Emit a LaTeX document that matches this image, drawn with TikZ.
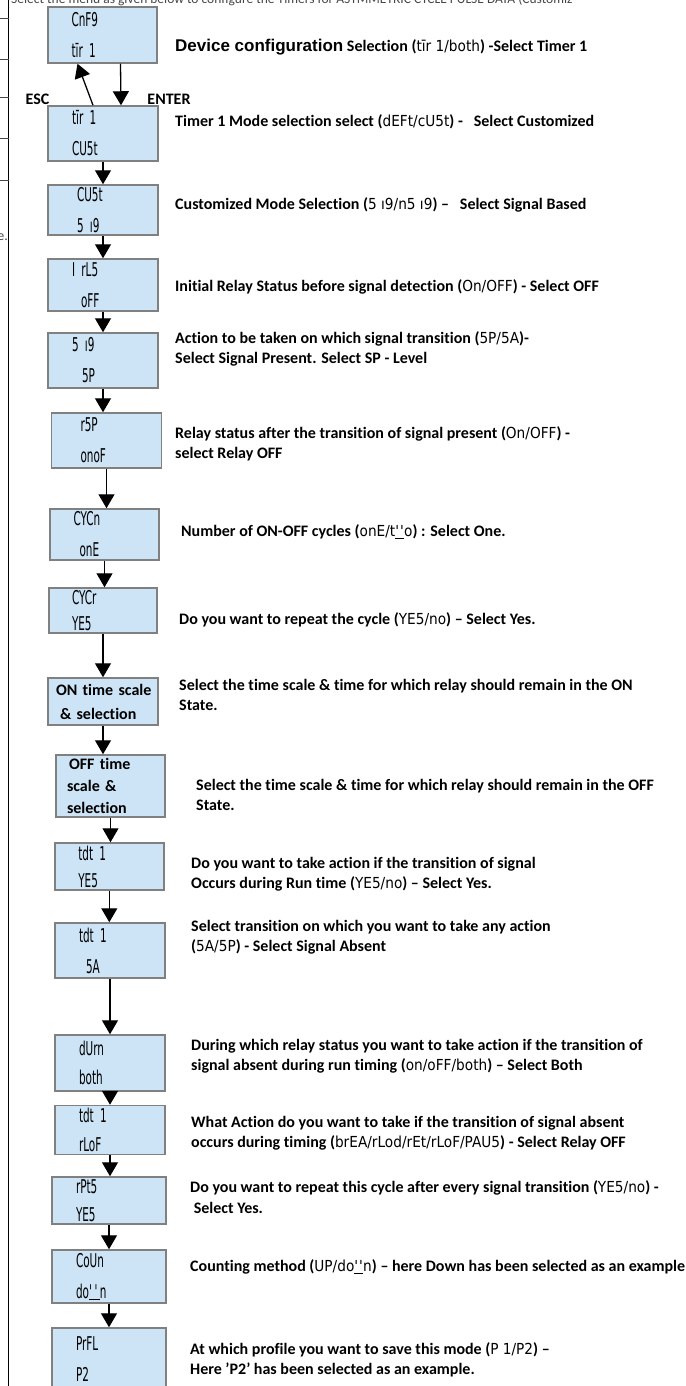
\documentclass[tikz,border=0pt]{standalone}
\usepackage{fontspec}
\setmainfont{Carlito}[Ligatures={TeX,NoCommon}]
\newfontfamily\segfont[FakeStretch=0.55]{DejaVu Sans}
\newfontfamily\segtext[FakeStretch=0.9]{DejaVu Sans}
\newfontfamily\arialfont{Liberation Sans}
\usetikzlibrary{arrows.meta,calc}
\definecolor{lcdfill}{RGB}{204,228,245}
\definecolor{lcdedge}{RGB}{128,128,128}
\definecolor{pagegray}{RGB}{70,70,70}
\newcommand\sg[1]{{\segtext\mdseries\fontsize{15.2}{20}\selectfont #1}}
\newcommand\segw{\underline{\smash{\textquotesingle\kern.5pt\textquotesingle}}}

\begin{document}
\begin{tikzpicture}[x=1pt,y=-1pt,font=\bfseries\fontsize{16}{20.5}\selectfont,
  lcd/.style={draw=lcdedge,line width=1.5pt,fill=lcdfill,inner sep=0pt,
    align=left,text width=62pt,font=\segfont\fontsize{19}{31}\selectfont},
  desc/.style={anchor=west,align=left,inner sep=0pt},
  arr/.style={-{Triangle[width=16pt,length=14pt]},line width=1.3pt}]

\useasboundingbox (0,0) rectangle (685,1386);
\clip (0,0) rectangle (685,1386);

% --- page around the flow chart ---
\draw[line width=0.8pt] (8.5,-5) -- (8.5,1392);
\foreach \y in {18,59,97,138,180}
  \draw[pagegray,line width=0.6pt] (0,\y) -- (8.5,\y);
\node[anchor=base west,inner sep=0pt,pagegray,font=\mdseries\fontsize{13.5}{16}\selectfont] (head) at (11,4)
  {Select the menu as given below to configure the Timers for ASYMMETRIC CYCLE PULSE DATA (Customiz};
\node[anchor=east,inner sep=0pt,pagegray,font=\mdseries\fontsize{14}{16}\selectfont] (cut) at (8,237) {e.};

% --- display boxes ---
\node[lcd,minimum width=109,minimum height=56] (b1) at (102.5,35) {CnF9\\tīr 1};
\node[lcd,minimum width=110,minimum height=55] (b2) at (103,133.5) {tīr 1\\CU5t};
\node[lcd,minimum width=110,minimum height=50] (b3) at (103,210) {\hspace*{5pt}CU5t\\\hspace*{5pt}5 ı9};
\node[lcd,minimum width=110,minimum height=52] (b4) at (103,285) {I rL5\\\hspace*{9pt}oFF};
\node[lcd,minimum width=110,minimum height=55] (b5) at (103,360.5) {5 ı9\\\hspace*{10pt}5P};
\node[lcd,minimum width=110,minimum height=55] (b6) at (106.5,440.5) {\hspace*{5pt}r5P\\\hspace*{5pt}onoF};
\node[lcd,minimum width=109,minimum height=51] (b7) at (104.5,534.5) {CYCn\\\hspace*{6pt}onE};
\node[lcd,minimum width=108,minimum height=45,font=\segfont\fontsize{19}{26}\selectfont] (b8) at (103,610.5) {CYCr\\YE5};
\node[lcd,minimum width=110,minimum height=47,text width=104pt,
  font=\bfseries\fontsize{16}{24}\selectfont] (b9) at (103,701.5) {\hspace*{5pt}ON time scale\\\hspace*{9pt}\& selection};
\node[lcd,minimum width=109,minimum height=62,text width=87pt,
  font=\bfseries\fontsize{16}{22}\selectfont] (b10) at (110.5,786) {\hspace*{2pt}OFF time\\scale \&\\selection};
\node[lcd,minimum width=109,minimum height=47,font=\segfont\fontsize{19}{27}\selectfont] (b11) at (109.3,866.5) {tdt 1\\YE5};
\node[lcd,minimum width=110,minimum height=55] (b12) at (110,950.5) {tdt 1\\\hspace*{7pt}5A};
\node[lcd,minimum width=110,minimum height=56,font=\segfont\fontsize{19}{29}\selectfont] (b13) at (110,1063) {dUrn\\both};
\node[lcd,minimum width=110,minimum height=49,font=\segfont\fontsize{19}{29}\selectfont] (b14) at (110,1130) {tdt 1\\rLoF};
\node[lcd,minimum width=114,minimum height=47,text width=66pt,font=\segfont\fontsize{19}{28}\selectfont] (b15) at (109,1200.5) {rPt5\\YE5};
\node[lcd,minimum width=114,minimum height=53,text width=66pt] (b16) at (109,1276.5) {CoUn\\do\segw n};
\node[lcd,minimum width=114,minimum height=62,text width=66pt] (b17) at (109,1359) {PrFL\\P2};

% --- descriptions ---
\node[desc] (d1) at (175,47) {{\arialfont\fontsize{17}{20}\selectfont Device configuration} Selection (\sg{tīr 1/both}) -Select Timer 1};
\node[desc] (d2) at (175,122) {Timer 1 Mode selection select (\sg{dEFt/cU5t}) -\ \ \ Select Customized};
\node[desc] (d3) at (175,205) {Customized Mode Selection (\sg{5 ı9/n5 ı9}) --\ \ \ Select Signal Based};
\node[desc] (d4) at (175,287) {Initial Relay Status before signal detection (\sg{On/OFF}) - Select OFF};
\node[desc] (d5) at (175,349) {Action to be taken on which signal transition (\sg{5P/5A})-\\Select Signal Present. Select SP - Level};
\node[desc] (d6) at (175,444) {Relay status after the transition of signal present (\sg{On/OFF}) -\\select Relay OFF};
\node[desc] (d7) at (181,532) {Number of ON-OFF cycles (\sg{onE/t\segw o}) : Select One.};
\node[desc] (d8) at (179,620) {Do you want to repeat the cycle (\sg{YE5/no}) -- Select Yes.};
\node[desc] (d9) at (179,695) {Select the time scale \& time for which relay should remain in the ON\\State.};
\node[desc] (d10) at (196,795) {Select the time scale \& time for which relay should remain in the OFF\\State.};
\node[desc] (d11) at (191,874) {Do you want to take action if the transition of signal\\Occurs during Run time (\sg{YE5/no}) -- Select Yes.};
\node[desc] (d12) at (191,937) {Select transition on which you want to take any action\\(\sg{5A/5P}) - Select Signal Absent};
\node[desc] (d13) at (191,1056) {During which relay status you want to take action if the transition of\\signal absent during run timing (\sg{on/oFF/both}) -- Select Both};
\node[desc] (d14) at (191,1133) {What Action do you want to take if the transition of signal absent\\occurs during timing (\sg{brEA/rLod/rEt/rLoF/PAU5}) - Select Relay OFF};
\node[desc] (d15) at (190,1197) {Do you want to repeat this cycle after every signal transition (\sg{YE5/no}) -\\\ Select Yes.};
\node[desc] (d16) at (190,1267) {Counting method (\sg{UP/do\segw n}) -- here Down has been selected as an example};
\node[desc] (d17) at (190,1360) {At which profile you want to save this mode (\sg{P 1/P2}) --\\Here 'P2' has been selected as an example.};

% --- ESC / ENTER between the first two boxes ---
\draw[arr] ([xshift=-10pt]b2.north) -- ([xshift=-25pt]b1.south);
\draw[arr] ([xshift=18pt]b1.south) -- ([xshift=18pt]b2.north);
\node (esc) at (37.5,99) {ESC};
\node (enter) at (169,99) {ENTER};

% --- menu steps ---
\foreach \a/\b in {b2/b3,b3/b4,b4/b5,b5/b6,b6/b7,b7/b8,b8/b9,b9/b10,b10/b11,
                   b11/b12,b12/b13,b13/b14,b14/b15,b15/b16,b16/b17}
  \draw[arr] (\a) -- (\a |- \b.north);

\end{tikzpicture}
\end{document}
